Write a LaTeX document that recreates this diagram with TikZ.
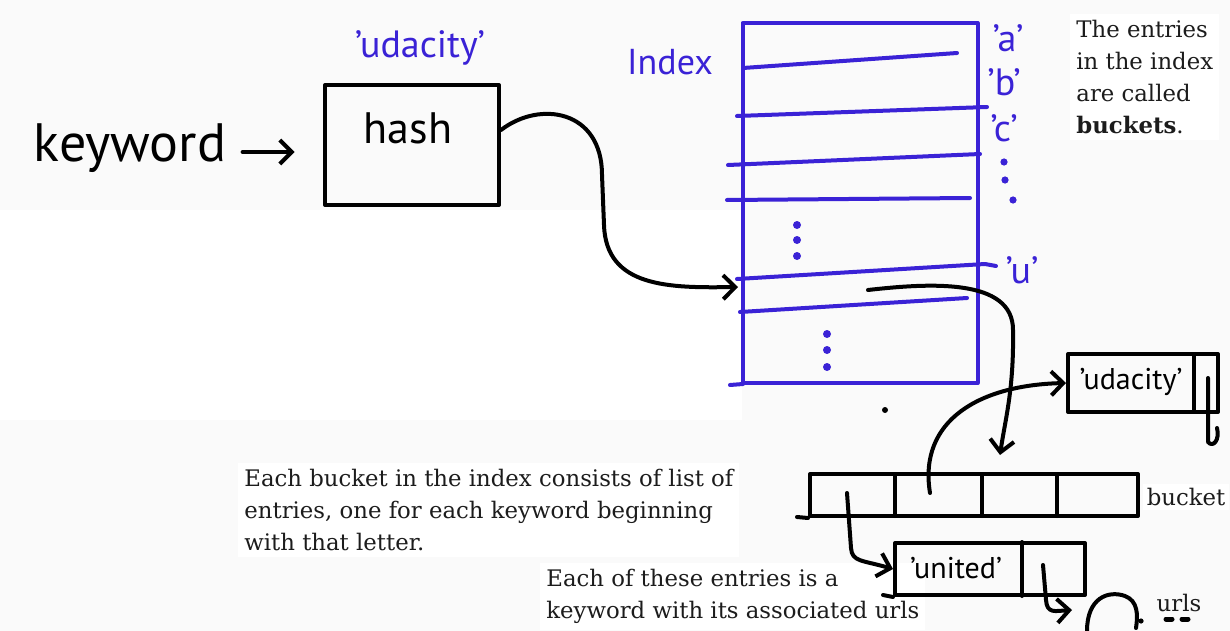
\documentclass[tikz,border=0pt]{standalone}
\usepackage{fontspec}
\setmainfont{DejaVu Serif}
\setsansfont{PT Sans}
\usetikzlibrary{positioning}
\usetikzlibrary{arrows.meta}
\definecolor{penColor}{HTML}{3A22D6}
\definecolor{noteColor}{HTML}{1C1C1C}
\definecolor{paperColor}{HTML}{FAFAFA}

\begin{document}
\begin{tikzpicture}[x=0.5pt,y=-0.5pt,
    pen/.style={line width=2pt, line cap=round, line join=round},
    bluepen/.style={pen, draw=penColor},
    hand/.style={font=\sffamily\fontsize{19}{21}\selectfont, inner sep=0pt},
    bluehand/.style={hand, text=penColor},
    note/.style={font=\fontsize{11.4}{16}\selectfont, text=noteColor, align=left, inner sep=0pt},
    pointer/.style={pen, -{Straight Barb[length=6pt,width=12pt]}}]
  \useasboundingbox (0,0) rectangle (1230,631);
  \fill[paperColor] (0,0) rectangle (1230,631);
  \fill[white] (0,210) rectangle (742,420);

  % notes
  \node[note, anchor=north west, fill=white, inner sep=3pt] (entrynote) at (1070,14) {The entries\\in the index\\are called\\\textbf{buckets}.};
  \node[note, anchor=north west, fill=white, inner sep=3pt] (bucketnote) at (238,463) {Each bucket in the index consists of list of\\entries, one for each keyword beginning\\with that letter.};
  \node[note, anchor=north west, fill=white, inner sep=3pt] (keynote) at (540,563) {Each of these entries is a\\keyword with its associated urls};

  % hash function
  \node[draw, pen, minimum width=87pt, minimum height=60pt, inner sep=0pt] (hashbox) at (412,145) {};
  \node[hand, font=\sffamily\fontsize{22}{24}\selectfont] (hashlbl) at (408,128) {hash};
  \node[bluehand] (kwblue) at (420,48) {'udacity'};
  \node[hand, font=\sffamily\fontsize{27}{29}\selectfont] (kw) at (130,148) {keyword};
  \draw[pointer] (kw.east) ++(8pt,-2pt) coordinate (kwout) -- ++(26pt,0) coordinate (kwin);

  % index
  \node[bluehand, font=\sffamily\fontsize{18}{20}\selectfont] (idxlbl) at (670,62) {Index};
  \node[bluepen, draw, minimum width=117.5pt, minimum height=180pt, inner sep=0pt] (idx) at (860,203) {};
  \draw[bluepen] (743,68) -- (957,53);
  \draw[bluepen] (737,116) -- (987,107);
  \draw[bluepen] (728,165) -- (980,154);
  \draw[bluepen] (727,200) -- (970,198);
  \draw[bluepen] (737,279) -- (985,264) -- (996,266);
  \draw[bluepen] (740,312) -- (967,298);
  \draw[bluepen] (730,385) -- (743,384);
  \foreach \y in {225,240,256} \fill[penColor] (797,\y) circle (2pt);
  \foreach \y in {334,350,367} \fill[penColor] (827,\y) circle (2pt);
  \node[bluehand] (la) at (1008,38) {'a'};
  \node[bluehand] (lb) at (1004,82) {'b'};
  \node[bluehand] (lc) at (1004,128) {'c'};
  \node[bluehand] (lu) at (1022,270) {'u'};
  \foreach \x/\y in {1004/162,1005/180,1013/200} \fill[penColor] (\x,\y) circle (1.8pt);

  \coordinate (urow) at (738,287);
  \coordinate (hashout) at ([yshift=7.5pt]hashbox.east);
  \draw[pointer] (hashout) .. controls (540,100) and (602,110) .. (602,175)
    -- (604,225) .. controls (606,288) and (670,288) .. (urow);

  % bucket list
  \node[draw, pen, minimum width=164pt, minimum height=21pt, inner sep=0pt] (bucket) at (974,495) {};
  \draw[pen] (797,517) -- (bucket.south west);
  \foreach \x in {895,982,1057} \draw[pen] (\x,474) -- (\x,516);
  \node[note, fill=white, inner sep=2pt] (bucketlbl) at (1186,497) {bucket};

  \coordinate (ustart) at (868,290);
  \coordinate (bucketin) at (1000,455);
  \draw[pointer] (ustart) .. controls (930,283) and (1013,278) .. (1013,330)
    .. controls (1014,390) and (1005,420) .. (bucketin);

  \node[draw, pen, minimum width=75pt, minimum height=29pt, inner sep=0pt] (udabox) at (1143,383) {};
  \draw[pen] (1194,355) -- (1194,411);
  \node[hand, font=\sffamily\fontsize{15}{17}\selectfont] (udalbl) at (1131,382) {'udacity'};
  \draw[pen] (1208,378) -- (1208,442) .. controls (1213,448) and (1220,440) .. (1217,428);
  \coordinate (cell2) at (930,493);
  \draw[pointer] (cell2) .. controls (918,420) and (980,385) .. (udabox.west);

  \node[draw, pen, minimum width=95pt, minimum height=26pt, inner sep=0pt] (unibox) at (990,569) {};
  \draw[pen] (883,595) -- (unibox.south west);
  \draw[pen] (1022,542) -- (1022,596);
  \node[hand, font=\sffamily\fontsize{15}{17}\selectfont] (unilbl) at (956,568) {'united'};
  \coordinate (cell1) at (847,493);
  \draw[pointer] (cell1) -- (851,548) .. controls (852,562) and (862,560) .. (unibox.west);

  \coordinate (unicell) at (1043,565);
  \coordinate (urlin) at (1072,610);
  \draw[pointer] (unicell) -- (1046,600) .. controls (1047,614) and (1055,611) .. (urlin);
  \draw[pen] (1087,631) .. controls (1087,598) and (1108,590) .. (1125,596)
    .. controls (1138,601) and (1138,615) .. (1136,628);
  \fill (1141,621) circle (1.3pt);
  \fill (885,410) circle (1.5pt);
  \node[note] (urlslbl) at (1179,603) {urls};
  \draw[pen, line width=2.5pt] (1166,619) -- (1172,619);
  \draw[pen, line width=2.5pt] (1182,619) -- (1188,619);
\end{tikzpicture}
\end{document}
